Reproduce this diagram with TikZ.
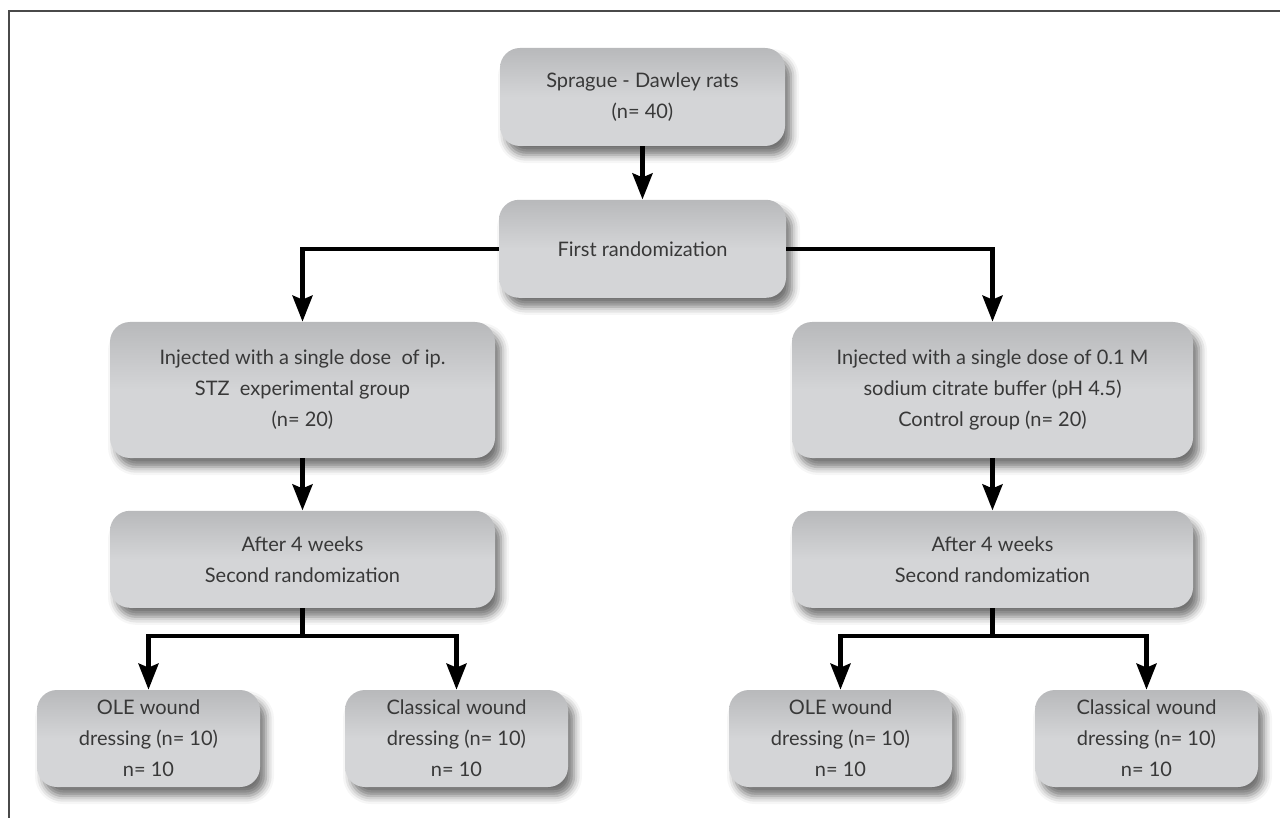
\documentclass[tikz,border=0pt]{standalone}
\usepackage{fontspec}
\setmainfont{Lato}
\usetikzlibrary{arrows.meta,positioning,shadows.blur}

\definecolor{boxtop}{HTML}{B8B9BB}
\definecolor{boxbot}{HTML}{D4D5D7}
\definecolor{boxtext}{HTML}{383838}
\definecolor{framegray}{HTML}{4A4A4A}

\tikzstyle{block}=[rectangle, rounded corners=10pt, top color=boxtop, bottom color=boxbot, middle color=boxbot, blur shadow={shadow xshift=3pt, shadow yshift=-4.5pt, shadow blur radius=4pt, shadow opacity=55}, align=center, text=boxtext, font=\fontsize{10}{15.5}\selectfont, inner sep=0pt]
\tikzstyle{arrow}=[draw, line width=2.2pt, -{Stealth[length=13pt,width=10pt,inset=2pt]}]

\begin{document}
\begin{tikzpicture}[x=0.5pt, y=-0.5pt]
\useasboundingbox (0,0) rectangle (1280,818);
\draw [framegray, line width=1pt] (9,818) -- (9,11) -- (1280,11);

\node (rats) [block, minimum width=142.5pt, minimum height=49pt] at (642.5,97) {Sprague - Dawley rats\\(n= 40)};
\node (first) [block, minimum width=143.5pt, minimum height=49pt, below=26.5pt of rats] {First randomization};
\node (stz) [block, minimum width=192.5pt, minimum height=68pt] at (302.5,390) {Injected with a single dose\ \ of ip.\\STZ\ \ experimental group\\(n= 20)};
\node (citrate) [block, minimum width=200.5pt, minimum height=68pt] at (992.5,390) {Injected with a single dose of 0.1 M\\sodium citrate buffer (pH 4.5)\\Control group (n= 20)};
\node (weeksL) [block, minimum width=192.5pt, minimum height=48.5pt, below=26pt of stz] {After 4 weeks\\Second randomization};
\node (weeksR) [block, minimum width=200.5pt, minimum height=48.5pt, below=26pt of citrate] {After 4 weeks\\Second randomization};
\node (oleL) [block, minimum width=111.5pt, minimum height=48.5pt] at (148.5,738.5) {OLE wound\\dressing (n= 10)\\n= 10};
\node (clasL) [block, minimum width=111.5pt, minimum height=48.5pt] at (456.5,738.5) {Classical wound\\dressing (n= 10)\\n= 10};
\node (oleR) [block, minimum width=111.5pt, minimum height=48.5pt] at (840.5,738.5) {OLE wound\\dressing (n= 10)\\n= 10};
\node (clasR) [block, minimum width=111.5pt, minimum height=48.5pt] at (1146.5,738.5) {Classical wound\\dressing (n= 10)\\n= 10};

\draw [arrow] (rats) -- (first);
\draw [arrow] (first.west) -| (stz.north);
\draw [arrow] (first.east) -| (citrate.north);
\draw [arrow] (stz) -- (weeksL);
\draw [arrow] (citrate) -- (weeksR);
\draw [arrow] (weeksL.south) -- ++(0,28) -| (oleL.north);
\draw [arrow] (weeksL.south) -- ++(0,28) -| (clasL.north);
\draw [arrow] (weeksR.south) -- ++(0,28) -| (oleR.north);
\draw [arrow] (weeksR.south) -- ++(0,28) -| (clasR.north);

\end{tikzpicture}
\end{document}
